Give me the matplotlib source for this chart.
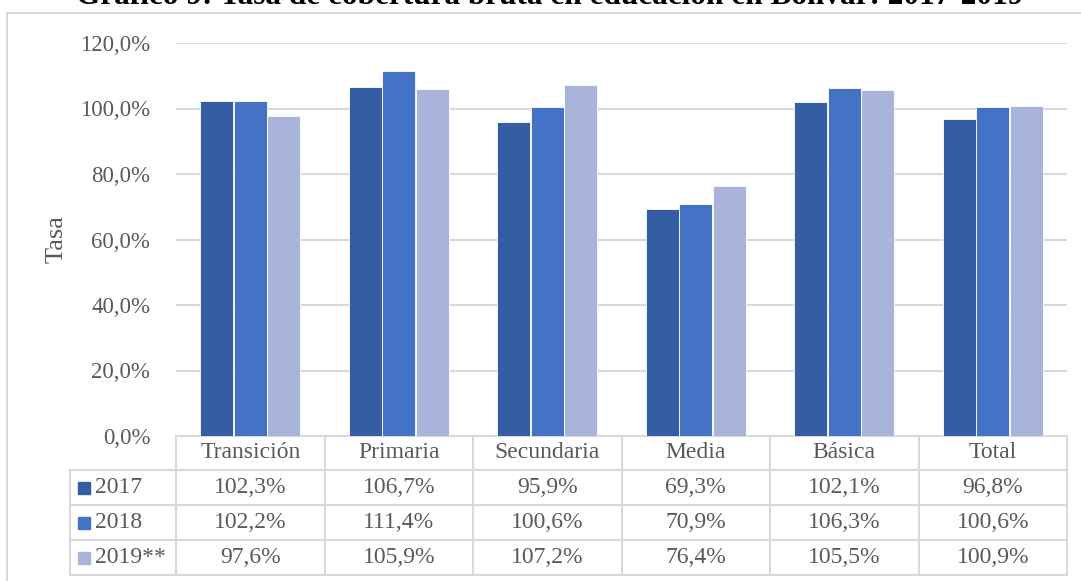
import matplotlib.pyplot as plt
from matplotlib.patches import Rectangle

plt.rcParams['font.family'] = ['Liberation Serif', 'DejaVu Serif']

categories = ['Transición', 'Primaria', 'Secundaria', 'Media', 'Básica', 'Total']
series_names = ['2017', '2018', '2019**']
v2017 = [102.3, 106.7, 95.9, 69.3, 102.1, 96.8]
v2018 = [102.2, 111.4, 100.6, 70.9, 106.3, 100.6]
v2019 = [97.6, 105.9, 107.2, 76.4, 105.5, 100.9]
yticks = [0, 20, 40, 60, 80, 100, 120]

values = [v2017, v2018, v2019]
colors = ['#355DA3', '#4472C4', '#A8B4DA']
grid_c = '#D9D9D9'
text_c = '#595959'

W, H = 1081, 581
fig = plt.figure(figsize=(W / 100, H / 100), dpi=100)
ax = fig.add_axes([176 / W, (H - 436) / H, (1067 - 176) / W, (436 - 43) / H])

x = list(range(len(categories)))
bw = 0.222
offsets = [-0.226, 0.0, 0.226]
for vals, col, off in zip(values, colors, offsets):
    ax.bar([i + off for i in x], vals, width=bw, color=col,
           edgecolor='white', linewidth=0.6, zorder=3)

ax.set_xlim(-0.5, len(categories) - 0.5)
ax.set_ylim(0, 120)
ax.set_yticks(yticks)
ax.set_yticklabels([f'{t:.1f}%'.replace('.', ',') for t in yticks],
                   fontsize=16.5, color=text_c)
ax.tick_params(axis='y', length=0, pad=18.5)
ax.set_xticks([])
ax.grid(axis='y', color=grid_c, linewidth=1.5, zorder=0)
for s in ax.spines.values():
    s.set_visible(False)
ax.set_ylabel('Tasa', fontsize=19, color=text_c, va='center')
ax.yaxis.set_label_coords((57 - 176) / 891, 0.5)

# data table under the axes
tr = ax.get_xaxis_transform()
ah = 436 - 43
rows_px = [436, 470, 505, 540, 575]
ry = [-(r - 436) / ah for r in rows_px]
left = -0.5 - (176 - 70) / 148.5
right = len(categories) - 0.5
lk = dict(color=grid_c, linewidth=1.5, transform=tr, clip_on=False)
ax.plot([-0.5, right], [ry[0], ry[0]], **lk)
for yy in ry[1:]:
    ax.plot([left, right], [yy, yy], **lk)
ax.plot([left, left], [ry[1], ry[-1]], **lk)
for k in range(len(categories) + 1):
    ax.plot([k - 0.5, k - 0.5], [ry[0], ry[-1]], **lk)

for i, c in enumerate(categories):
    ax.text(i, (ry[0] + ry[1]) / 2, c, transform=tr, ha='center', va='center',
            fontsize=17, color=text_c)
for r, (name, vals, col) in enumerate(zip(series_names, values, colors)):
    yc = (ry[r + 1] + ry[r + 2]) / 2
    for i, v in enumerate(vals):
        ax.text(i, yc, f'{v:.1f}%'.replace('.', ','), transform=tr,
                ha='center', va='center', fontsize=17, color=text_c)
    sq_h = 12 / ah
    sq_w = 12 / 148.5
    ax.add_patch(Rectangle((left + 8 / 148.5, yc - sq_h / 2), sq_w, sq_h,
                           transform=tr, color=col, clip_on=False))
    ax.text(left + 25 / 148.5, yc, name, transform=tr, ha='left', va='center',
            fontsize=17, color=text_c)

# outer frame and title (the source image crops its top half)
fig.patches.append(Rectangle((7 / W, -0.05), 1.2, (H - 13) / H + 0.05,
                             transform=fig.transFigure, fill=False,
                             edgecolor=grid_c, linewidth=1.5))
fig.text(550 / W, (H - 3.5) / H, 'Gráfico 9: Tasa de cobertura bruta en educación en Bolívar: 2017-2019',
         ha='center', va='baseline', fontsize=22.5, fontweight='bold', color='black')

fig.savefig('out.png', dpi=100)
